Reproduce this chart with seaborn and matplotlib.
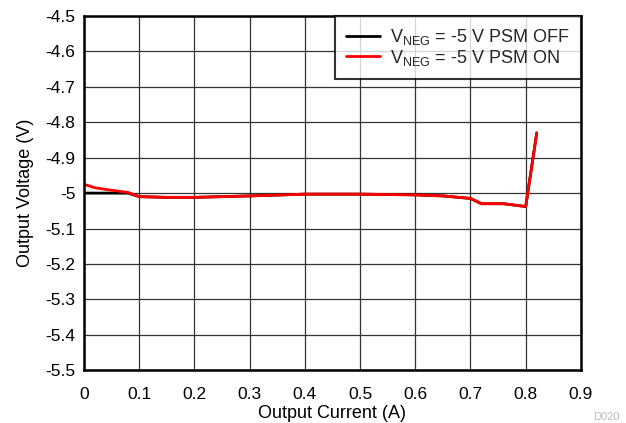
import matplotlib
matplotlib.use("Agg")
import matplotlib.pyplot as plt
import seaborn as sns
import pandas as pd

sns.set_theme(style="white")
plt.rcParams['font.family'] = ['Liberation Sans', 'DejaVu Sans']
plt.rcParams['mathtext.fontset'] = 'custom'
plt.rcParams['mathtext.rm'] = 'Liberation Sans'
plt.rcParams['mathtext.it'] = 'Liberation Sans'

current_off = [0.0, 0.02, 0.05, 0.08, 0.1, 0.15, 0.2, 0.3, 0.4, 0.5, 0.6, 0.65, 0.7, 0.72, 0.76, 0.8, 0.82]
voltage_off = [-5.0, -5.0, -5.0, -5.0, -5.01, -5.012, -5.012, -5.008, -5.003, -5.003, -5.005, -5.008, -5.015, -5.03, -5.03, -5.038, -4.83]
current_on = [0.0, 0.02, 0.05, 0.08, 0.1, 0.15, 0.2, 0.3, 0.4, 0.5, 0.6, 0.65, 0.7, 0.72, 0.76, 0.8, 0.82]
voltage_on = [-4.975, -4.985, -4.992, -4.998, -5.01, -5.012, -5.012, -5.008, -5.003, -5.003, -5.005, -5.008, -5.015, -5.03, -5.03, -5.038, -4.83]
labels = [r"V$_{\mathregular{NEG}}$ = -5 V PSM OFF", r"V$_{\mathregular{NEG}}$ = -5 V PSM ON"]

df = pd.concat([
    pd.DataFrame({"x": current_off, "y": voltage_off, "s": labels[0]}),
    pd.DataFrame({"x": current_on, "y": voltage_on, "s": labels[1]}),
])

fig = plt.figure(figsize=(6.26, 4.23), dpi=100)
ax = fig.add_axes([0.134, 0.125, 0.794, 0.837])
sns.lineplot(data=df, x="x", y="y", hue="s", palette={labels[0]: "black", labels[1]: "#ff0000"},
             linewidth=2, ax=ax, sort=False, estimator=None)

ax.set_xlim(0, 0.9)
ax.set_ylim(-5.5, -4.5)
xt = [0, 0.1, 0.2, 0.3, 0.4, 0.5, 0.6, 0.7, 0.8, 0.9]
yt = [-5.5, -5.4, -5.3, -5.2, -5.1, -5.0, -4.9, -4.8, -4.7, -4.6, -4.5]
ax.set_xticks(xt)
ax.set_xticklabels(["0", "0.1", "0.2", "0.3", "0.4", "0.5", "0.6", "0.7", "0.8", "0.9"])
ax.set_yticks(yt)
ax.set_yticklabels(["-5.5", "-5.4", "-5.3", "-5.2", "-5.1", "-5", "-4.9", "-4.8", "-4.7", "-4.6", "-4.5"])
ax.grid(True, color="#333333", linewidth=0.9)
ax.tick_params(axis="both", labelsize=12.5, colors="black", length=0)
ax.tick_params(axis="x", pad=12)
ax.tick_params(axis="y", pad=6)
for sp in ax.spines.values():
    sp.set_color("black")
    sp.set_linewidth(1.8)
ax.set_xlabel("Output Current (A)", fontsize=13, color="black", labelpad=2)
ax.set_ylabel("Output Voltage (V)", fontsize=13, color="black", labelpad=8)

leg = ax.legend(loc="upper right", fontsize=13, frameon=True, fancybox=False,
                borderaxespad=0, handlelength=1.9, handletextpad=0.55, labelspacing=0.05,
                borderpad=0.6)
leg.get_frame().set_edgecolor("black")
leg.get_frame().set_linewidth(1.5)
leg.set_title(None)

fig.text(0.947, 0.002, "D020", fontsize=8, color="#bbbbbb", ha="left", va="bottom")
fig.savefig("out.png", dpi=100)
